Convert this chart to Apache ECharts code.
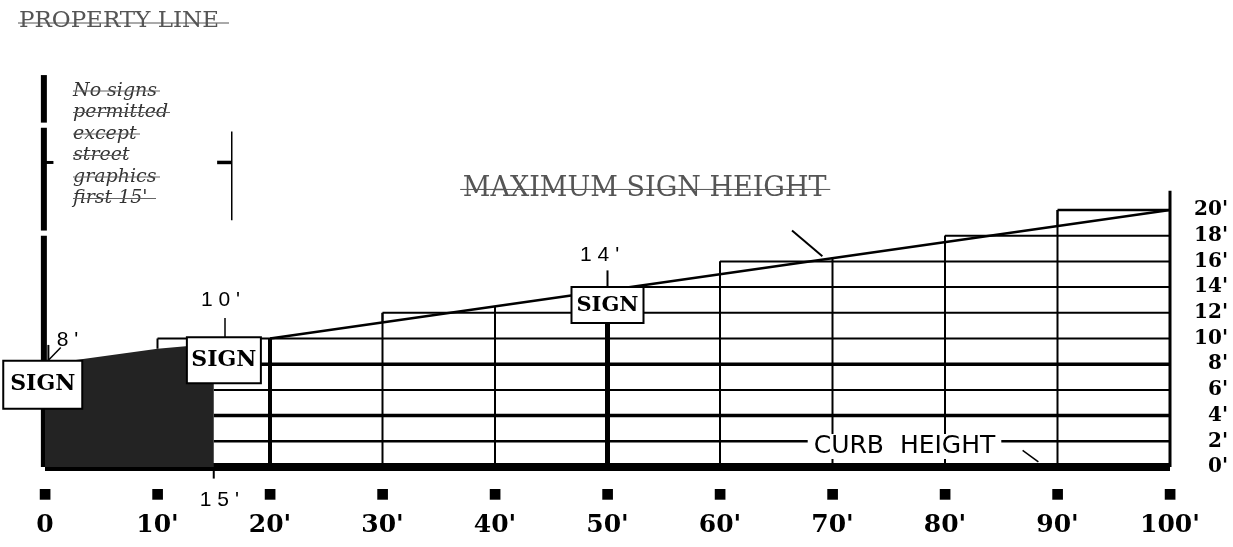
<!DOCTYPE html>
<html><head><meta charset="utf-8">
<script src="https://cdn.jsdelivr.net/npm/echarts@6/dist/echarts.min.js"></script>
<style>html,body{margin:0;padding:0;background:#fff}#c{width:1233px;height:547px}</style>
</head><body><div id="c"></div>
<script>
// ---- data (feet) ----
const xTicks = [0,10,20,30,40,50,60,70,80,90,100];
const xTickLabels = ["0","10'","20'","30'","40'","50'","60'","70'","80'","90'","100'"];
const yTicks = [0,2,4,6,8,10,12,14,16,18,20];
const yTickLabels = ["0'","2'","4'","6'","8'","10'","12'","14'","16'","18'","20'"];
const gridHeights = [0,2,4,6,8,10,12,14,16,18,20];
const gridStartFt = [0,15,15,15,15,10,30,50,60,80,90];
const postFt = [20,30,40,50,60,70,80,90,100];
const postTopFt = [10,12,12.5,12.7,16,16.3,18,20,21.5];
const maxSignHeight = [[20,10],[100,20]];
const riserFt = [10,30,60,80,90];
const riserFrom = [9.2,11.25,15,17.5,18.75];
const riserTo = [10,12,16,18,20];
const shadedZone = [[0,8],[5,8.6],[10,9.2],[15,9.6]];
const signText = ["SIGN","SIGN","SIGN"];
const signAt = [[-0.2,6.4],[15.9,8.3],[50,12.6]];
const calloutText = ["8'","10'","14'"];
const calloutAt = [[2.0,9.9],[15.6,13.0],[49.3,16.5]];
const setbackFt = 15;

// ---- segments ----
const gridW = [8,2.5,3.5,2,3.5,2,2,2,2,2,2.5];
const postW = [4,2,2,5,2,2,2,2,3];
const segs = [];
gridHeights.forEach((h,i)=>segs.push({coords:[[gridStartFt[i],h],[100,h]],lineStyle:{width:gridW[i]}}));
postFt.forEach((x,i)=>segs.push({coords:[[x,0],[x,postTopFt[i]]],lineStyle:{width:postW[i]}}));
riserFt.forEach((x,i)=>segs.push({coords:[[x,riserFrom[i]],[x,riserTo[i]]],lineStyle:{width:2}}));
segs.push({coords:maxSignHeight,lineStyle:{width:2.5}});
// property line
[[0,18],[18.4,26.4],[26.8,30.5]].forEach(p=>segs.push({coords:[[-0.1,p[0]],[-0.1,p[1]]],lineStyle:{width:6}}));
segs.push({coords:[[0,23.7],[0.75,23.7]],lineStyle:{width:3}});
// dimension marker
segs.push({coords:[[16.6,19.2],[16.6,26.1]],lineStyle:{width:1.5}});
segs.push({coords:[[15.3,23.7],[16.6,23.7]],lineStyle:{width:3.5}});
// callout ticks
segs.push({coords:[[0.3,9.5],[0.3,8.2]],lineStyle:{width:2}});
segs.push({coords:[[1.4,9.3],[0.3,8.3]],lineStyle:{width:1.5}});
segs.push({coords:[[16,11.6],[16,10.0]],lineStyle:{width:1.5}});
segs.push({coords:[[50,15.3],[50,13.9]],lineStyle:{width:2}});
// arrow to max height line
segs.push({coords:[[66.4,18.4],[69.1,16.4]],lineStyle:{width:2}});
// curb arrow
segs.push({coords:[[86.9,1.3],[88.3,0.4]],lineStyle:{width:1.5}});
// 15' tick
segs.push({coords:[[setbackFt,0],[setbackFt,-0.9]],lineStyle:{width:2}});
// strike over MAXIMUM SIGN HEIGHT
segs.push({coords:[[36.9,21.6],[69.8,21.6]],lineStyle:{width:1,color:'#555'}});

// ---- labels ----
const texts = [];
signText.forEach((t,i)=>{
  const sz=[[77,46],[72,44],[70,34]][i];
  texts.push({value:signAt[i],label:{formatter:t,width:sz[0],height:sz[1],lineHeight:sz[1],
    backgroundColor:'#fff',borderColor:'#000',borderWidth:2,align:'center',
    fontFamily:'DejaVu Serif',fontWeight:'bold',fontSize:i==2?21:22,color:'#000'}});
});
calloutText.forEach((t,i)=>texts.push({value:calloutAt[i],label:{formatter:t.split('').join(' '),
  fontFamily:'Liberation Sans',fontSize:21,color:'#000'}}));
texts.push({value:[setbackFt+0.5,-2.6],label:{formatter:"1 5 '",fontFamily:'Liberation Sans',fontSize:21,color:'#000'}});
texts.push({value:[53.3,21.6],label:{formatter:'MAXIMUM SIGN HEIGHT',fontFamily:'DejaVu Serif',fontSize:27,color:'#555'}});
texts.push({value:[76.4,1.6],label:{formatter:'CURB  HEIGHT',fontFamily:'DejaVu Sans',fontSize:25,color:'#000',
  backgroundColor:'#fff',padding:[0,6,0,6]}});

const chart = echarts.init(document.getElementById('c'));
const strikeG = [];
const italic = ["No signs","permitted","except","street","graphics","first 15'"];
const italicW = [87,97,67,54,87,83];
italic.forEach((t,i)=>strikeG.push({type:'line',shape:{x1:73,y1:91+i*21.5,x2:73+italicW[i],y2:91+i*21.5},style:{stroke:'#666',lineWidth:1},z:100}));
chart.setOption({
  animation:false,
  grid:{left:45,right:63,top:210,bottom:80},
  xAxis:{type:'value',min:0,max:100,interval:10,
    axisLine:{show:false},axisTick:{show:false},splitLine:{show:false},
    axisLabel:{margin:19,formatter:v=>'{sq|■}\n{t|'+xTickLabels[xTicks.indexOf(v)]+'}',
      rich:{sq:{fontSize:14,lineHeight:16,color:'#000',fontFamily:'DejaVu Sans'},
            t:{fontSize:25,lineHeight:46,fontWeight:'bold',fontFamily:'DejaVu Serif',color:'#000'}}}},
  yAxis:{type:'value',position:'right',min:0,max:20,interval:2,
    axisLine:{show:false},axisTick:{show:false},splitLine:{show:false},
    axisLabel:{margin:58,align:'right',formatter:v=>yTickLabels[yTicks.indexOf(v)],
      fontFamily:'DejaVu Serif',fontWeight:'bold',fontSize:20,color:'#000'}},
  graphic:[
    {type:'text',left:19,top:10,style:{text:'PROPERTY LINE',font:'23px "DejaVu Serif"',fill:'#555'}},
    {type:'line',shape:{x1:18,y1:23,x2:229,y2:23},style:{stroke:'#555',lineWidth:1}},
    {type:'text',left:73,top:80,style:{text:italic.join('\n'),font:'italic 19px "DejaVu Serif"',lineHeight:21.5,fill:'#333'}},
    ...strikeG
  ],
  series:[
    {type:'line',data:shadedZone,symbol:'none',lineStyle:{width:0},areaStyle:{color:'#232323',opacity:1},z:3},
    {type:'lines',coordinateSystem:'cartesian2d',polyline:true,clip:false,data:segs,
      lineStyle:{color:'#000',opacity:1},z:2},
    {type:'scatter',clip:false,symbolSize:1,itemStyle:{color:'rgba(0,0,0,0)',opacity:1},data:texts,
      label:{show:true,position:'inside'},emphasis:{disabled:true},z:10}
  ]
});
</script></body></html>
